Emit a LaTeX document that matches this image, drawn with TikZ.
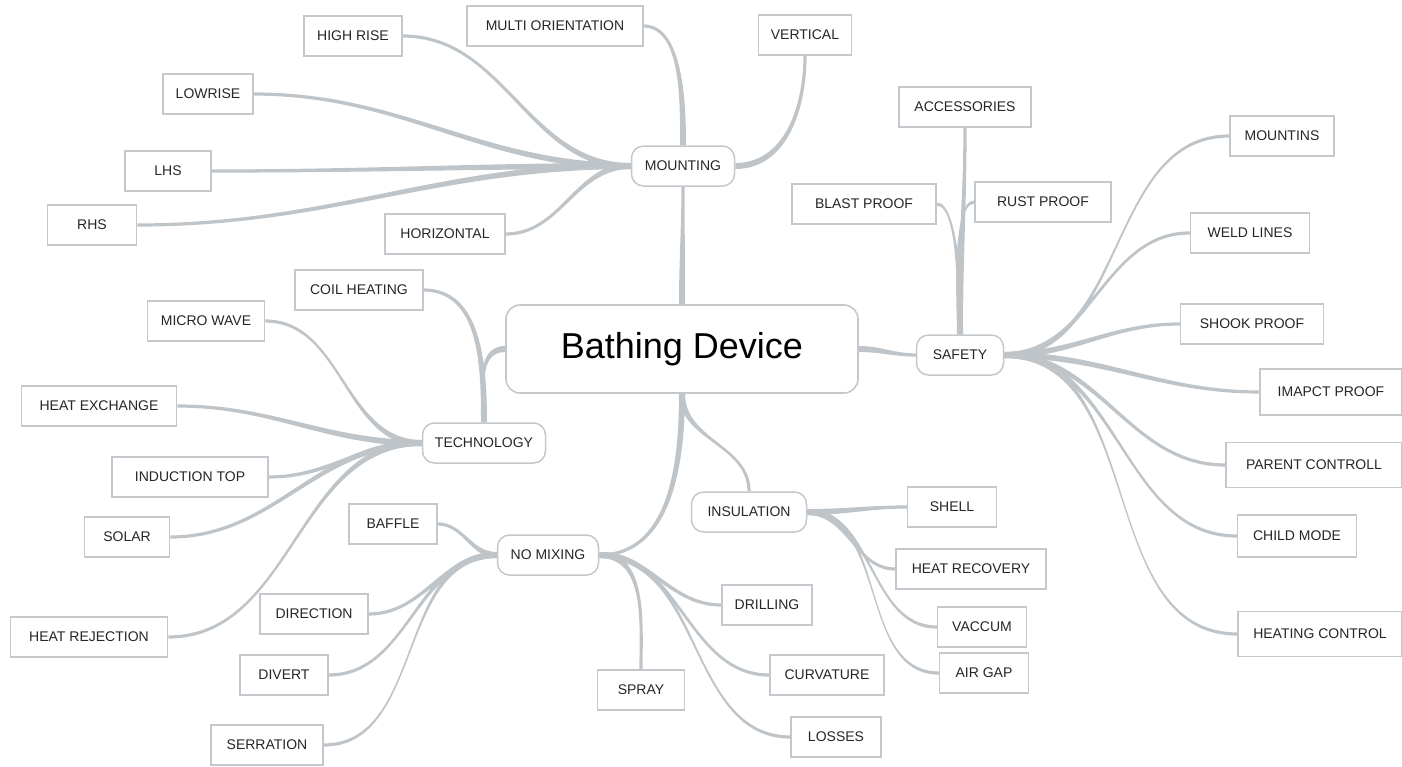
\documentclass[tikz,border=0pt]{standalone}
\usepackage{fontspec}
\setmainfont{Liberation Sans}
\usetikzlibrary{calc,backgrounds}
\definecolor{linkc}{RGB}{190,196,200}
\definecolor{boxc}{RGB}{196,200,204}
\tikzset{
  leaf/.style={draw=boxc,line width=1.5pt,fill=white,minimum height=40pt,inner sep=2pt,
    font=\fontsize{14}{16}\selectfont,text=black!85},
  hub/.style={leaf,rounded corners=12pt},
  rootbox/.style={draw=boxc,line width=1.6pt,fill=white,rounded corners=14pt,
    minimum width=352pt,minimum height=88pt,font=\fontsize{36}{40}\selectfont,text=black},
}
% tapered link: [to options] parent anchor, out angle, child anchor, in angle
\newcommand\tlink[5][]{%
  \fill[linkc] ($(#2)+({#3+90}:3.0)$) to[out=#3,in=#5,#1] ($(#4)+({#5-90}:1.6)$)
    -- ($(#4)+({#5+90}:1.6)$) to[out=#5,in=#3,#1] ($(#2)+({#3-90}:3.0)$) -- cycle;}
\begin{document}
\begin{tikzpicture}[x=1pt,y=1pt]
\useasboundingbox (0,0) rectangle (1402,-766);
% root
\node[rootbox] (root) at (682,-349) {Bathing Device};
% hubs
\node[hub,minimum width=103pt] (mount) at (683,-166) {MOUNTING};
\node[hub,minimum width=87pt] (safety) at (960,-355) {SAFETY};
\node[hub,minimum width=123pt] (tech) at (484,-443) {TECHNOLOGY};
\node[hub,minimum width=101pt] (nomix) at (548,-555) {NO MIXING};
\node[hub,minimum width=115pt] (insul) at (749,-512) {INSULATION};
% mounting leaves
\node[leaf,minimum width=98pt] (highrise) at (353,-36) {HIGH RISE};
\node[leaf,minimum width=176pt] (multi) at (555,-26) {MULTI ORIENTATION};
\node[leaf,minimum width=93pt] (vertical) at (805,-35) {VERTICAL};
\node[leaf,minimum width=90pt] (lowrise) at (208,-94) {LOWRISE};
\node[leaf,minimum width=86pt] (lhs) at (168,-171) {LHS};
\node[leaf,minimum width=89pt] (rhs) at (92,-225) {RHS};
\node[leaf,minimum width=120pt] (horizontal) at (445,-234) {HORIZONTAL};
% safety leaves
\node[leaf,minimum width=132pt] (access) at (965,-107) {ACCESSORIES};
\node[leaf,minimum width=144pt] (blast) at (864,-204) {BLAST PROOF};
\node[leaf,minimum width=136pt] (rust) at (1043,-202) {RUST PROOF};
\node[leaf,minimum width=104pt] (mountins) at (1282,-136) {MOUNTINS};
\node[leaf,minimum width=119pt] (weld) at (1250,-233) {WELD LINES};
\node[leaf,minimum width=143pt] (shook) at (1252,-324) {SHOOK PROOF};
\node[leaf,minimum width=142pt,minimum height=46pt] (impact) at (1331,-392) {IMAPCT PROOF};
\node[leaf,minimum width=176pt,minimum height=45pt] (parent) at (1314,-465) {PARENT CONTROLL};
\node[leaf,minimum width=119pt,minimum height=42pt] (child) at (1297,-536) {CHILD MODE};
\node[leaf,minimum width=164pt,minimum height=45pt] (heating) at (1320,-634) {HEATING CONTROL};
% technology leaves
\node[leaf,minimum width=128pt] (coil) at (359,-290) {COIL HEATING};
\node[leaf,minimum width=117pt] (micro) at (206,-321) {MICRO WAVE};
\node[leaf,minimum width=155pt] (heatex) at (99,-406) {HEAT EXCHANGE};
\node[leaf,minimum width=156pt] (induction) at (190,-477) {INDUCTION TOP};
\node[leaf,minimum width=85pt] (solar) at (127,-537) {SOLAR};
\node[leaf,minimum width=157pt] (heatrej) at (89,-637) {HEAT REJECTION};
% no mixing leaves
\node[leaf,minimum width=88pt] (baffle) at (393,-524) {BAFFLE};
\node[leaf,minimum width=108pt] (direction) at (314,-614) {DIRECTION};
\node[leaf,minimum width=88pt] (divert) at (284,-675) {DIVERT};
\node[leaf,minimum width=112pt] (serration) at (267,-745) {SERRATION};
\node[leaf,minimum width=87pt] (spray) at (641,-690) {SPRAY};
\node[leaf,minimum width=90pt] (drilling) at (767,-605) {DRILLING};
\node[leaf,minimum width=114pt] (curvature) at (827,-675) {CURVATURE};
\node[leaf,minimum width=90pt] (losses) at (836,-737) {LOSSES};
% insulation leaves
\node[leaf,minimum width=89pt] (shell) at (952,-507) {SHELL};
\node[leaf,minimum width=150pt] (heatrec) at (971,-569) {HEAT RECOVERY};
\node[leaf,minimum width=89pt] (vaccum) at (982,-627) {VACCUM};
\node[leaf,minimum width=89pt] (airgap) at (984,-673) {AIR GAP};
\begin{pgfonlayer}{background}
% root links
\tlink{root.north}{90}{mount.south}{270}
\tlink{root.east}{0}{safety.west}{180}
\tlink{root.west}{180}{tech.north}{90}
\tlink{root.south}{270}{nomix.east}{0}
\tlink{root.south}{270}{insul.north}{90}
% mounting
\tlink{mount.west}{180}{highrise.east}{0}
\tlink[looseness=0.8]{mount.north}{90}{multi.east}{0}
\tlink{mount.east}{0}{vertical.south}{270}
\tlink{mount.west}{180}{lowrise.east}{0}
\tlink{mount.west}{180}{lhs.east}{0}
\tlink{mount.west}{180}{rhs.east}{0}
\tlink{mount.west}{180}{horizontal.east}{0}
% safety
\tlink{safety.north}{90}{access.south}{270}
\tlink[looseness=0.45]{safety.north}{90}{blast.east}{0}
\tlink[looseness=0.45]{safety.north}{90}{rust.west}{180}
\tlink{safety.east}{0}{mountins.west}{180}
\tlink{safety.east}{0}{weld.west}{180}
\tlink{safety.east}{0}{shook.west}{180}
\tlink{safety.east}{0}{impact.west}{180}
\tlink{safety.east}{0}{parent.west}{180}
\tlink{safety.east}{0}{child.west}{180}
\tlink{safety.east}{0}{heating.west}{180}
% technology
\tlink{tech.north}{90}{coil.east}{0}
\tlink{tech.west}{180}{micro.east}{0}
\tlink{tech.west}{180}{heatex.east}{0}
\tlink{tech.west}{180}{induction.east}{0}
\tlink{tech.west}{180}{solar.east}{0}
\tlink{tech.west}{180}{heatrej.east}{0}
% no mixing
\tlink{nomix.west}{180}{baffle.east}{0}
\tlink{nomix.west}{180}{direction.east}{0}
\tlink{nomix.west}{180}{divert.east}{0}
\tlink{nomix.west}{180}{serration.east}{0}
\tlink{nomix.east}{0}{spray.north}{90}
\tlink{nomix.east}{0}{drilling.west}{180}
\tlink{nomix.east}{0}{curvature.west}{180}
\tlink{nomix.east}{0}{losses.west}{180}
% insulation
\tlink{insul.east}{0}{shell.west}{180}
\tlink{insul.east}{0}{heatrec.west}{180}
\tlink{insul.east}{0}{vaccum.west}{180}
\tlink{insul.east}{0}{airgap.west}{180}
\end{pgfonlayer}
\end{tikzpicture}
\end{document}
